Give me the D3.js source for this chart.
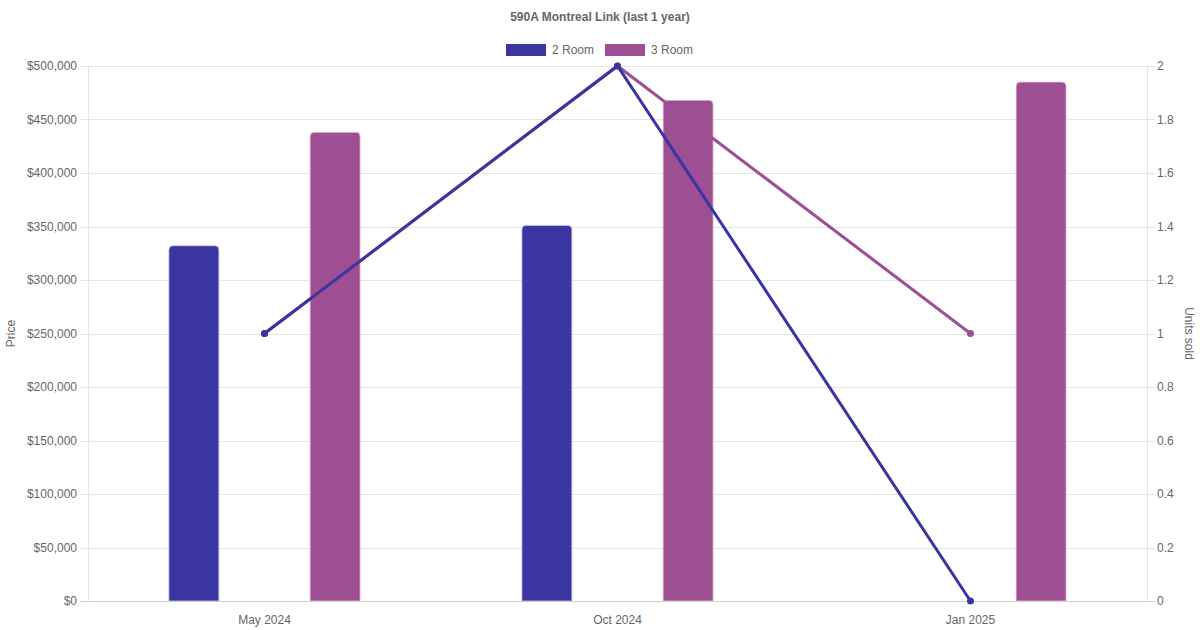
<!DOCTYPE html>
<html><head><meta charset="utf-8">
<script src="https://cdn.jsdelivr.net/npm/d3@7"></script>
<style>body{margin:0;background:#fff}svg{display:block}text{font-family:"Liberation Sans",Arial,sans-serif;fill:#666}</style>
</head><body>
<svg id="c" width="1200" height="630"></svg>
<script>
const categories = ["May 2024", "Oct 2024", "Jan 2025"];
const seriesNames = ["2 Room", "3 Room"];
const price2Room = [332000, 351000, null];
const price3Room = [438000, 468000, 485000];
const units2Room = [1, 2, 0];
const units3Room = [1, 2, 1];
const priceTicks = [0,50000,100000,150000,200000,250000,300000,350000,400000,450000,500000];
const unitTicks = [0,0.2,0.4,0.6,0.8,1,1.2,1.4,1.6,1.8,2];
const colors = ["#3a35a0", "#9e4f93"];
const borders = ["#c9c6ee", "#e6c8e0"];

const svg = d3.select("#c");
const L = 88, R = 1147, T = 66, B = 601;
const x = d3.scaleBand().domain(categories).range([L, R]).paddingInner(0).paddingOuter(0);
const yP = d3.scaleLinear().domain([0, 500000]).range([B, T]);
const yU = d3.scaleLinear().domain([0, 2]).range([B, T]);
const fmt = d => "$" + d3.format(",")(d);

// grid
svg.append("g").selectAll("line").data(priceTicks).join("line")
  .attr("x1", L - 8).attr("x2", R + 8).attr("y1", d => Math.round(yP(d)) + 0.5).attr("y2", d => Math.round(yP(d)) + 0.5)
  .attr("stroke", d => d === 0 ? "#d0d0d0" : "#e5e5e5").attr("stroke-width", 1);
svg.append("line").attr("x1", L + 0.5).attr("x2", L + 0.5).attr("y1", T).attr("y2", B).attr("stroke", "#e5e5e5");
svg.append("line").attr("x1", R + 0.5).attr("x2", R + 0.5).attr("y1", T).attr("y2", B).attr("stroke", "#e5e5e5");

// left axis labels
svg.append("g").selectAll("text").data(priceTicks).join("text")
  .attr("x", L - 11).attr("y", d => yP(d)).attr("dy", "0.35em").attr("text-anchor", "end")
  .attr("font-size", 12).text(fmt);
// right axis labels
svg.append("g").selectAll("text").data(unitTicks).join("text")
  .attr("x", R + 10).attr("y", d => yU(d)).attr("dy", "0.35em").attr("text-anchor", "start")
  .attr("font-size", 12).text(d => d3.format("~g")(d));
// x labels
svg.append("g").selectAll("text").data(categories).join("text")
  .attr("x", d => x(d) + x.bandwidth() / 2).attr("y", B + 23).attr("text-anchor", "middle")
  .attr("font-size", 12).text(d => d);

// axis titles
svg.append("text").attr("transform", `translate(15,${(T + B) / 2}) rotate(-90)`).attr("text-anchor", "middle")
  .attr("font-size", 12).text("Price");
svg.append("text").attr("transform", `translate(1185,${(T + B) / 2}) rotate(90)`).attr("text-anchor", "middle")
  .attr("font-size", 12).text("Units sold");

// title
svg.append("text").attr("x", 600).attr("y", 21).attr("text-anchor", "middle").attr("font-size", 12)
  .attr("font-weight", "bold").text("590A Montreal Link (last 1 year)");

// legend
const legendX = [506, 605];
seriesNames.forEach((n, i) => {
  svg.append("rect").attr("x", legendX[i]).attr("y", 44).attr("width", 40).attr("height", 12).attr("fill", colors[i]);
  svg.append("text").attr("x", legendX[i] + 46).attr("y", 50).attr("dy", "0.35em").attr("font-size", 12).text(n);
});

// bars
const sub = d3.scaleBand().domain(seriesNames).range([0, x.bandwidth() * 0.8]);
const barW = 50;
const prices = [price2Room, price3Room];
function barPath(x0, w, yTop, yBot, r) {
  r = Math.min(r, (yBot - yTop));
  return `M${x0},${yBot}V${yTop + r}Q${x0},${yTop} ${x0 + r},${yTop}H${x0 + w - r}Q${x0 + w},${yTop} ${x0 + w},${yTop + r}V${yBot}Z`;
}
seriesNames.forEach((n, i) => {
  const data = categories.map((c, j) => ({ c, v: prices[i][j] })).filter(d => d.v != null);
  svg.append("g").selectAll("path").data(data).join("path")
    .attr("d", d => {
      const cx = x(d.c) + x.bandwidth() * 0.1 + sub(n) + sub.bandwidth() / 2;
      return barPath(cx - barW / 2, barW, yP(d.v), yP(0), 4);
    })
    .attr("fill", colors[i]).attr("stroke", borders[i]).attr("stroke-width", 0.8);
});

// lines (3 Room first, 2 Room on top)
const units = [units2Room, units3Room];
[1, 0].forEach(i => {
  const pts = categories.map((c, j) => ({ c, v: units[i][j] })).filter(d => d.v != null);
  const line = d3.line().x(d => x(d.c) + x.bandwidth() / 2).y(d => yU(d.v));
  svg.append("path").datum(pts).attr("d", line).attr("fill", "none").attr("stroke", colors[i]).attr("stroke-width", 3);
  svg.append("g").selectAll("circle").data(pts).join("circle")
    .attr("cx", d => x(d.c) + x.bandwidth() / 2).attr("cy", d => yU(d.v)).attr("r", 3.5).attr("fill", colors[i]);
});
</script>
</body></html>
